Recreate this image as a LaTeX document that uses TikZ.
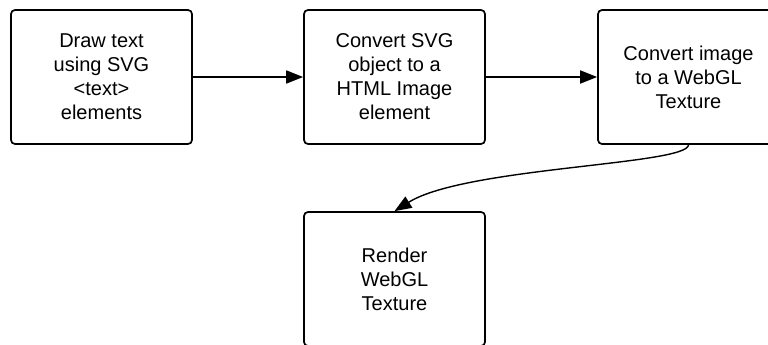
\documentclass[tikz,border=0pt]{standalone}
\usepackage{fontspec}
\setmainfont{Liberation Sans}
\usepackage{tikz}
\usetikzlibrary{arrows.meta}

\begin{document}
\begin{tikzpicture}[x=1pt,y=-1pt,
    stepbox/.style={draw,line width=1.7pt,rounded corners=4pt,minimum width=181pt,minimum height=134pt,align=center,font=\fontsize{20}{24}\selectfont},
    flow/.style={-{Triangle[length=17pt,width=13pt]},line width=1.7pt}]
        \useasboundingbox (0,0) rectangle (768,345);

        \node[stepbox] (draw) at (101.5,77) {Draw text\\using SVG\\<text>\\elements};
        \node[stepbox] (convsvg) at (394.5,77) {Convert SVG\\object to a\\HTML Image\\element};
        \node[stepbox] (convimg) at (688.5,77) {Convert image\\to a WebGL\\Texture};
        \node[stepbox] (render) at (394.5,279) {Render\\WebGL\\Texture};

        \draw[flow] (draw) -- (convsvg);
        \draw[flow] (convsvg) -- (convimg);
        \draw[flow,line width=1.4pt] (convimg.south) .. controls (688,165) and (465,167) .. (render.north);
    \end{tikzpicture}
\end{document}
